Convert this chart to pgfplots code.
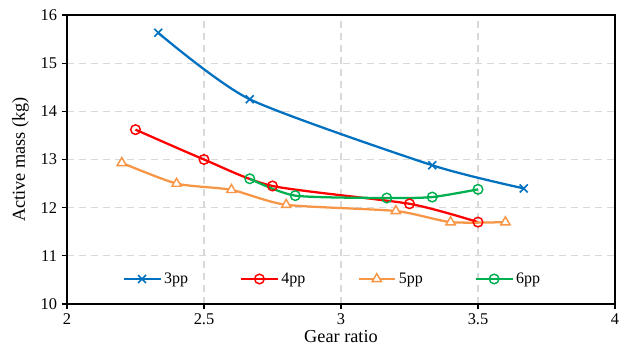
\documentclass[border=0pt]{standalone}
\usepackage{fontspec}
\setmainfont{Liberation Serif}
\usepackage{pgfplots}
\pgfplotsset{compat=1.18}
\definecolor{c3}{RGB}{0,112,192}
\definecolor{c4}{RGB}{255,0,0}
\definecolor{c5}{RGB}{247,150,70}
\definecolor{c6}{RGB}{0,176,80}
\definecolor{gridc}{RGB}{217,217,217}
\begin{document}
\begin{tikzpicture}
\begin{axis}[
  scale only axis,
  width=411pt, height=216.75pt,
  xmin=2, xmax=4, ymin=10, ymax=16,
  xtick={2,2.5,3,3.5,4}, ytick={10,11,12,13,14,15,16},
  xticklabels={2,2.5,3,3.5,4},
  /pgf/number format/assume math mode=true,
  tick label style={font=\fontsize{12.3}{14}\selectfont},
  label style={font=\fontsize{13.7}{16}\selectfont},
  xlabel={Gear ratio}, ylabel={Active mass (kg)},
  xlabel style={yshift=3pt},
  ylabel style={yshift=2pt},
  tick align=outside, tick pos=left,
  major tick length=4pt,
  tick style={black, line width=0.8pt},
  axis line style={black, line width=1pt},
  grid=major,
  major grid style={gridc, dashed, line width=0.8pt, dash pattern=on 5pt off 4pt},
  legend columns=4,
  legend style={draw=none, fill=none, at={(rel axis cs:0.485,0.0865)}, anchor=center,
    font=\fontsize{12}{14}\selectfont, /tikz/every even column/.append style={column sep=37pt}},
  legend image code/.code={\draw[mark repeat=2,mark phase=2] plot coordinates {(0cm,0cm)(0.48cm,0cm)(0.96cm,0cm)};},
  every axis plot/.append style={line width=1.7pt, smooth, tension=0.4},
]
\addplot[c3, mark=x, mark size=4.2pt, mark options={solid, line width=1.2pt}] coordinates {
 (2.333,15.63) (2.667,14.25) (3.333,12.88) (3.667,12.40)};
\addlegendentry{3pp}
\addplot[c4, mark=o, mark size=3.6pt, mark options={solid, fill=white, line width=1.1pt}] coordinates {
 (2.25,13.62) (2.5,13.00) (2.75,12.45) (3.25,12.08) (3.5,11.70)};
\addlegendentry{4pp}
\addplot[c5, mark=triangle*, mark size=4pt, mark options={solid, fill=white, line width=1.1pt}] coordinates {
 (2.2,12.93) (2.4,12.50) (2.6,12.37) (2.8,12.06) (3.2,11.93) (3.4,11.70) (3.6,11.70)};
\addlegendentry{5pp}
\addplot[c6, mark=o, mark size=3.6pt, mark options={solid, fill=white, line width=1.1pt}] coordinates {
 (2.667,12.60) (2.833,12.25) (3.167,12.20) (3.333,12.22) (3.5,12.38)};
\addlegendentry{6pp}
\end{axis}
\pgfresetboundingbox
\path (current axis.south west) ++(-50.25pt,-40.5pt) coordinate (bbA);
\path (current axis.north east) ++(3.75pt,11.25pt) coordinate (bbB);
\useasboundingbox (bbA) rectangle (bbB);
\end{tikzpicture}
\end{document}
